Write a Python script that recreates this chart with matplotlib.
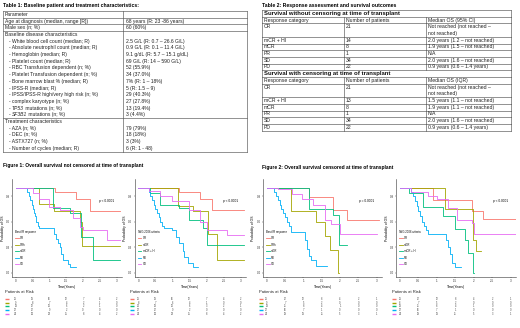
import matplotlib
matplotlib.use("Agg")
import matplotlib.pyplot as plt
from matplotlib import transforms
from matplotlib.lines import Line2D

plt.rcParams['font.family'] = ['Liberation Sans', 'DejaVu Sans']

# ---------------- Table 1 data ----------------
t1_title = "Table 1: Baseline patient and treatment characteristics:"
t1_params = ["Parameter", "Age at diagnosis (median, range [R])", "Male sex (n; %)",
             "Baseline disease characteristics",
             "- White blood cell count (median; R)", "- Absolute neutrophil count (median; R)",
             "- Hemoglobin (median; R)", "- Platelet count (median; R)",
             "- RBC Transfusion dependent (n; %)", "- Platelet Transfusion dependent (n; %)",
             "- Bone marrow blast % (median; R)", "- IPSS-R (median; R)",
             "- IPSS/IPSS-R high/very high risk (n; %)", "- complex karyotype (n; %)",
             "- |TP53| mutations (n; %)", "- |SF3B1| mutations (n; %)",
             "Treatment characteristics", "- AZA (n; %)", "- DEC (n; %)", "- ASTX727 (n; %)",
             "- Number of cycles (median; R)"]
t1_values = ["", "68 years (R: 23 -86 years)", "60 (60%)", "",
             "2.5 G/L (R: 0.7 – 26.6 G/L)", "0.9 G/L (R: 0.1 – 11.4 G/L)",
             "9.1 g/dL (R: 5.7 – 15.1 g/dL)", "69 G/L (R: 14 – 590 G/L)",
             "52 (55.9%)", "34 (37.0%)", "7% (R: 1 – 18%)", "5 (R: 1.5 – 9)",
             "29 (40.3%)", "27 (27.8%)", "13 (19.4%)", "3 (4.4%)", "",
             "79 (79%)", "18 (18%)", "3 (3%)", "6 (R: 1 - 48)"]
t1_rule_after = [0, 1, 2, 15]

# ---------------- Table 2 data ----------------
t2_title = "Table 2: Response assessment and survival outcomes"
t2_sec1 = "Survival without censoring at time of transplant"
t2_sec2 = "Survival with censoring at time of transplant"
t2_header1 = ["Response category", "Number of patients", "Median OS (95% CI)"]
t2_header2 = ["Response category", "Number of patients", "Median OS (IQR)"]
t2_cats = ["CR", "mCR + HI", "mCR", "PR", "SD", "PD"]
t2_n1 = ["21", "14", "8", "1", "34", "22"]
t2_os1 = ["Not reached (not reached –\nnot reached)", "2.0 years (1.2 – not reached)",
          "1.9 years (1.5 – not reached)", "N/A", "2.0 years (1.6 – not reached)",
          "0.9 years (0.6 – 1.4 years)"]
t2_n2 = ["21", "13", "8", "1", "34", "22"]
t2_os2 = ["Not reached (not reached –\nnot reached)", "1.5 years (1.1 – not reached)",
          "1.9 years (1.1 – not reached)", "N/A", "2.0 years (1.6 – not reached)",
          "0.9 years (0.6 – 1.4 years)"]

# ---------------- KM data ----------------
fig1_title = "Figure 1: Overall survival not censored at time of transplant"
fig2_title = "Figure 2: Overall survival censored at time of transplant"
colors = ["#F8766D", "#A3A500", "#00BF7D", "#00B0F6", "#E76BF3"]
groups_ir = ["CR", "CRh", "mCR", "PD", "SD"]
groups_iwg = ["CR", "mCR", "mCR + HI", "PD", "SD"]
time_ticks = [0, 0.5, 1, 1.5, 2, 2.5, 3]
time_labels = ["0", "0.5", "1", "1.5", "2", "2.5", "3"]
prob_ticks = [0.0, 0.3, 0.6, 0.9]

f1l_t = [[0, 1.17, 1.8, 2.2, 3.1],
         [0, 0.7, 1.15, 1.9, 1.97, 3.1],
         [0, 1.12, 1.6, 1.95, 2.3, 3.1],
         [0, 0.35, 0.4, 0.43, 0.47, 0.5, 0.53, 0.56, 0.6, 0.65, 0.7, 1.1, 1.15, 1.2, 1.25, 1.3, 1.35, 1.4, 1.55, 1.6, 1.8],
         [0, 0.5, 0.7, 1.0, 1.3, 1.7, 1.9, 2.0, 2.7, 3.1]]
f1l_s = [[1, 0.95, 0.87, 0.73, 0.73],
         [1, 0.81, 0.72, 0.6, 0.31, 0.31],
         [1, 0.76, 0.7, 0.42, 0.15, 0.15],
         [1, 0.95, 0.9, 0.85, 0.8, 0.75, 0.7, 0.66, 0.6, 0.55, 0.52, 0.52, 0.46, 0.4, 0.35, 0.3, 0.22, 0.15, 0.1, 0.07, 0.07],
         [1, 0.93, 0.87, 0.77, 0.74, 0.64, 0.54, 0.5, 0.39, 0.39]]

f1r_t = [[0, 1.2, 1.8, 2.15, 3.1],
         [0, 1.15, 1.6, 2.05, 2.3, 3.1],
         [0, 0.35, 0.65, 1.2, 1.5, 1.9, 2.0, 3.1],
         [0, 0.3, 0.35, 0.4, 0.45, 0.5, 0.55, 0.6, 0.65, 0.7, 0.75, 1.0, 1.1, 1.2, 1.3, 1.35, 1.45, 1.6, 1.75],
         [0, 0.3, 0.65, 1.0, 1.5, 1.8, 2.0, 2.6, 3.1]]
f1r_s = [[1, 0.95, 0.86, 0.74, 0.74],
         [1, 0.78, 0.72, 0.45, 0.15, 0.15],
         [1, 0.93, 0.8, 0.76, 0.62, 0.52, 0.33, 0.33],
         [1, 0.95, 0.9, 0.85, 0.8, 0.75, 0.7, 0.65, 0.6, 0.55, 0.52, 0.5, 0.42, 0.35, 0.25, 0.18, 0.12, 0.07, 0.07],
         [1, 0.96, 0.9, 0.84, 0.74, 0.6, 0.5, 0.44, 0.44]]

f2l_t = [[0, 1.15, 1.8, 2.2, 3.05],
         [0, 0.67, 1.35, 1.58, 1.72, 1.95, 1.97],
         [0, 1.15, 1.8, 1.98, 2.18],
         [0, 0.2, 0.25, 0.3, 0.35, 0.4, 0.45, 0.5, 0.55, 0.6, 0.65, 1.0, 1.05, 1.1, 1.15, 1.2, 1.35, 1.65],
         [0, 0.3, 0.7, 0.95, 1.25, 1.6, 1.75, 2.0, 3.0]]
f2l_s = [[1, 0.89, 0.74, 0.62, 0.62],
         [1, 0.73, 0.59, 0.43, 0.27, 0.0, 0.0],
         [1, 0.75, 0.68, 0.33, 0.33],
         [1, 0.95, 0.9, 0.85, 0.8, 0.75, 0.7, 0.65, 0.6, 0.55, 0.48, 0.48, 0.38, 0.28, 0.2, 0.15, 0.08, 0.08],
         [1, 0.98, 0.92, 0.86, 0.8, 0.62, 0.57, 0.46, 0.46]]

f2r_t = [[0, 0.9, 1.95, 2.25, 3.15],
         [0, 1.22, 1.98, 2.05, 2.2],
         [0, 0.25, 0.63, 1.17, 1.5, 1.77, 1.85, 1.98, 2.0],
         [0, 0.3, 0.35, 0.4, 0.45, 0.5, 0.55, 0.6, 0.65, 0.7, 0.75, 1.2, 1.25, 1.3, 1.35, 1.4, 1.5, 1.65],
         [0, 0.3, 0.75, 1.0, 1.3, 1.55, 1.95, 2.0, 3.15]]
f2r_s = [[1, 0.85, 0.72, 0.63, 0.63],
         [1, 0.75, 0.39, 0.25, 0.25],
         [1, 0.94, 0.77, 0.67, 0.51, 0.39, 0.23, 0.0, 0.0],
         [1, 0.95, 0.9, 0.84, 0.78, 0.72, 0.66, 0.6, 0.55, 0.5, 0.46, 0.46, 0.38, 0.3, 0.22, 0.12, 0.07, 0.07],
         [1, 0.95, 0.9, 0.86, 0.76, 0.62, 0.58, 0.46, 0.46]]

risk_f1l = [[21, 19, 16, 12, 7, 4, 2], [9, 8, 7, 4, 2, 1, 0], [13, 12, 10, 6, 2, 1, 0],
            [22, 17, 9, 2, 0, 0, 0], [34, 30, 23, 15, 8, 4, 2]]
risk_f1r = [[21, 19, 16, 12, 7, 4, 2], [8, 7, 6, 4, 1, 0, 0], [14, 13, 10, 6, 3, 2, 1],
            [22, 17, 9, 2, 0, 0, 0], [34, 30, 23, 15, 8, 4, 2]]
risk_f2l = [[21, 17, 12, 8, 4, 2, 1], [9, 7, 5, 2, 0, 0, 0], [13, 11, 8, 4, 1, 0, 0],
            [22, 16, 7, 1, 0, 0, 0], [34, 28, 19, 11, 5, 3, 1]]
risk_f2r = [[21, 17, 12, 8, 4, 2, 1], [8, 7, 5, 2, 0, 0, 0], [13, 11, 8, 4, 1, 0, 0],
            [22, 16, 7, 1, 0, 0, 0], [34, 28, 19, 11, 5, 3, 1]]

pvals = ["p < 0.0001", "p < 0.0001", "p = 0.0001", "p < 0.0001"]

# ---------------- figure ----------------
W, H = 520, 328
fig = plt.figure(figsize=(W / 100, H / 100), dpi=100)
bg = fig.add_axes([0, 0, 1, 1])
bg.set_xlim(0, W)
bg.set_ylim(H, 0)
bg.axis("off")
renderer = fig.canvas.get_renderer()
LC = "#555555"
LW = 0.45
TXT = "#222222"


def text_width(t):
    bb = t.get_window_extent(renderer=renderer)
    return bb.width * W / fig.bbox.width


def rich_text(x, y, s, **kw):
    # segments between | are italic
    parts = s.split("|")
    for k, part in enumerate(parts):
        if not part:
            continue
        t = bg.text(x, y, part, style="italic" if k % 2 else "normal", **kw)
        x += text_width(t)


# Table 1
bg.text(3, 5.5, t1_title, fontsize=3.7, fontweight="bold", va="center", ha="left")
t1_top, rh = 11.0, 6.7
t1_l, t1_m, t1_r = 3, 123, 247
n1 = len(t1_params)
t1_bot = t1_top + rh * n1
for i, (p, v) in enumerate(zip(t1_params, t1_values)):
    yc = t1_top + rh * (i + 0.5)
    x = 9 if p.startswith("-") else 5
    rich_text(x, yc, p, fontsize=3.6, va="center", ha="left", color=TXT)
    if v:
        bg.text(t1_m + 3, yc, v, fontsize=3.6, va="center", ha="left", color=TXT)
bg.plot([t1_l, t1_r], [t1_top, t1_top], color=LC, lw=LW)
bg.plot([t1_l, t1_r], [t1_bot, t1_bot], color=LC, lw=LW)
for i in t1_rule_after:
    y = t1_top + rh * (i + 1)
    bg.plot([t1_l, t1_r], [y, y], color=LC, lw=LW)
for x in (t1_l, t1_m, t1_r):
    bg.plot([x, x], [t1_top, t1_bot], color=LC, lw=LW)

# Table 2
bg.text(262, 5.5, t2_title, fontsize=3.7, fontweight="bold", va="center", ha="left")
cx = [262, 344, 426, 511]
y = 10.0
bg.plot([cx[0], cx[-1]], [y, y], color=LC, lw=LW)


def t2_row(y, cells, nlines=1, section=False):
    h = rh * nlines
    if section:
        bg.text(cx[0] + 1.5, y + h / 2 + 0.3, cells, fontsize=4.3, fontweight="bold",
                va="center", ha="left", color="#111111")
    else:
        for j, c in enumerate(cells):
            for k, part in enumerate(c.split("\n")):
                bg.text(cx[j] + 1.5, y + rh * (k + 0.5), part, fontsize=3.7,
                        va="center", ha="left", color=TXT)
        for x in cx[1:-1]:
            bg.plot([x, x], [y, y + h], color=LC, lw=LW)
    for x in (cx[0], cx[-1]):
        bg.plot([x, x], [y, y + h], color=LC, lw=LW)
    bg.plot([cx[0], cx[-1]], [y + h, y + h], color=LC, lw=LW)
    return y + h


for sec, hdr, ns, oss in ((t2_sec1, t2_header1, t2_n1, t2_os1),
                          (t2_sec2, t2_header2, t2_n2, t2_os2)):
    y = t2_row(y, sec, section=True)
    y = t2_row(y, hdr)
    for c, n, o in zip(t2_cats, ns, oss):
        y = t2_row(y, [c, n, o], nlines=2 if "\n" in o else 1)

# Figure titles
bg.text(3, 165, fig1_title, fontsize=3.5, fontweight="bold", va="center", ha="left")
bg.text(262, 167, fig2_title, fontsize=3.5, fontweight="bold", va="center", ha="left")

# KM panels
panels = [
    (15.7, 33.7, f1l_t, f1l_s, groups_ir, "Best IR response", risk_f1l, pvals[0], 4),
    (138.3, 34.1, f1r_t, f1r_s, groups_iwg, "IWG 2006 criteria", risk_f1r, pvals[1], 129),
    (266.7, 36.7, f2l_t, f2l_s, groups_ir, "Best IR response", risk_f2l, pvals[2], 258),
    (400.0, 36.9, f2r_t, f2r_s, groups_iwg, "IWG 2006 criteria", risk_f2r, pvals[3], 391),
]
xmin, xmax = -0.1, 3.15
ymin, ymax = -0.05, 1.1
ax_top, ax_bot = 179, 277
for x0, ppy, tt, ss, groups, ltitle, risk, pv, rx in panels:
    lpx = x0 + xmin * ppy
    rpx = x0 + xmax * ppy
    ax = fig.add_axes([lpx / W, 1 - ax_bot / H, (rpx - lpx) / W, (ax_bot - ax_top) / H])
    ax.set_xlim(xmin, xmax)
    ax.set_ylim(ymin, ymax)
    ax.patch.set_alpha(0)
    for sp in ("top", "right"):
        ax.spines[sp].set_visible(False)
    for sp in ("left", "bottom"):
        ax.spines[sp].set_linewidth(0.4)
        ax.spines[sp].set_color("#333333")
    handles = []
    for t, s, col, g in zip(tt, ss, colors, groups):
        ax.step(t, s, where="post", color=col, lw=0.6)
        handles.append(Line2D([], [], color=col, lw=0.6, label=g))
    ax.set_xticks(time_ticks)
    ax.set_xticklabels(time_labels)
    ax.set_yticks(prob_ticks)
    ax.set_yticklabels([f"{v:.1f}" for v in prob_ticks])
    ax.tick_params(labelsize=2.2, length=1, width=0.3, pad=0.8, colors="#333333")
    ax.set_xlabel("Time(Years)", fontsize=2.4, labelpad=0.8)
    ax.set_ylabel("Probability of OS", fontsize=2.4, labelpad=0.8)
    ax.text(0.93, 0.78, pv, transform=ax.transAxes, fontsize=2.3, ha="right", va="center")
    leg = ax.legend(handles=handles, title=ltitle, loc="upper left",
                    bbox_to_anchor=(0.01, 0.5), fontsize=2.0, title_fontsize=2.0,
                    frameon=False, handlelength=1.2, handletextpad=0.5,
                    labelspacing=0.9, borderpad=0.2)
    leg._legend_box.align = "left"
    # risk table
    bg.text(rx + 1, 292, "Patients at Risk", fontsize=3.0, va="center", ha="left", color=TXT)
    tr = transforms.blended_transform_factory(ax.transData, bg.transData)
    for k, (col, row) in enumerate(zip(colors, risk)):
        yy = 299 + 3.7 * k
        bg.plot([rx + 1, rx + 4.5], [yy, yy], color=col, lw=1.0, solid_capstyle="butt")
        for tv, n in zip(time_ticks, row):
            bg.text(tv, yy, str(n), transform=tr, fontsize=1.8, ha="center", va="center",
                    color="#444444")

fig.savefig("out.png", dpi=100)
